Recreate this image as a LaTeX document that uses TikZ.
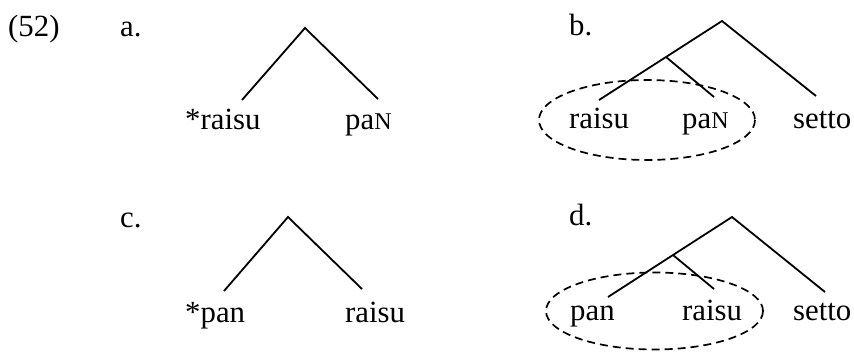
\documentclass[tikz,border=0pt]{standalone}
\usepackage{fontspec}
\setmainfont{Liberation Serif}
\newcommand{\smN}{{\fontsize{24}{24}\selectfont N}}
\begin{document}
\begin{tikzpicture}[x=1pt,y=-1pt,
  lbl/.style={anchor=base west,inner sep=0pt,font=\fontsize{30.8}{34}\selectfont},
  branch/.style={line width=1.8pt,line join=miter},
  grp/.style={draw,line width=1.7pt,dash pattern=on 8pt off 5pt}]
\useasboundingbox (0,0) rectangle (854,351);
% labels
\node[lbl] (ex) at (8,36) {(52)};
\node[lbl] (la) at (120,36) {a.};
\node[lbl] (lb) at (569,35) {b.};
\node[lbl] (lc) at (120,227) {c.};
\node[lbl] (ld) at (569,225) {d.};
% tree a
\coordinate (aTop) at (305,28);
\coordinate (aL) at (242,100);
\coordinate (aR) at (378,99);
\node[lbl] (aw1) at (185,129) {*raisu};
\node[lbl] (aw2) at (345,129) {pa\smN};
\draw[branch] (aL) -- (aTop) -- (aR);
% tree b
\coordinate (bTop) at (722,21);
\coordinate (bMid) at (666,57);
\coordinate (bL) at (599,100);
\coordinate (bM) at (714,97);
\coordinate (bR) at (816,96);
\node[lbl] (bw1) at (569,128) {raisu};
\node[lbl] (bw2) at (682,128) {pa\smN};
\node[lbl] (bw3) at (793,128) {setto};
\draw[branch] (bL) -- (bMid) -- (bTop) -- (bR);
\draw[branch] (bMid) -- (bM);
\draw[grp] (647,120) ellipse [x radius=108, y radius=40];
% tree c
\coordinate (cTop) at (288,217);
\coordinate (cL) at (224,291);
\coordinate (cR) at (362,289);
\node[lbl] (cw1) at (185,322) {*pan};
\node[lbl] (cw2) at (345,322) {raisu};
\draw[branch] (cL) -- (cTop) -- (cR);
% tree d
\coordinate (dTop) at (732,217);
\coordinate (dMid) at (673,255);
\coordinate (dL) at (608,297);
\coordinate (dM) at (714,289);
\coordinate (dR) at (825,292);
\node[lbl] (dw1) at (570,320) {pan};
\node[lbl] (dw2) at (682,320) {raisu};
\node[lbl] (dw3) at (793,320) {setto};
\draw[branch] (dL) -- (dMid) -- (dTop) -- (dR);
\draw[branch] (dMid) -- (dM);
\draw[grp] (654.5,311) ellipse [x radius=108.5, y radius=38.5];
\end{tikzpicture}
\end{document}
